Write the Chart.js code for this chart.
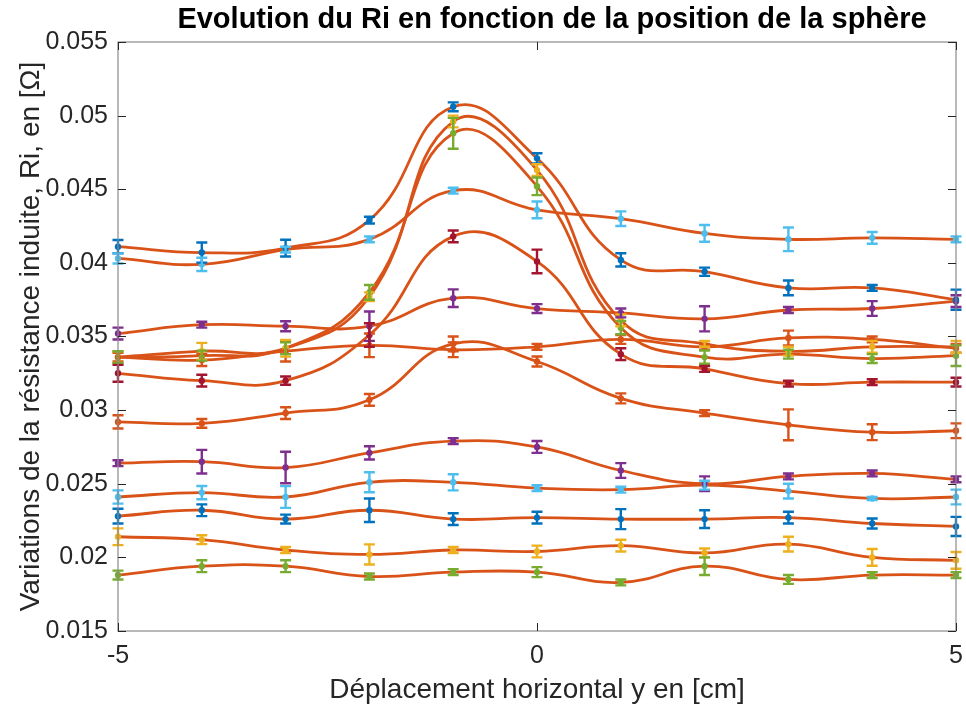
<!DOCTYPE html>
<html>
<head>
<meta charset="utf-8">
<script src="https://cdn.jsdelivr.net/npm/chart.js@4.4.1/dist/chart.umd.min.js"></script>
<style>
html, body { margin: 0; padding: 0; background: #fff; }
#wrap { width: 966px; height: 711px; }
</style>
</head>
<body>
<div id="wrap"><canvas id="ri" width="966" height="711"></canvas></div>
<script>
// positions de la sphère (cm)
const positions = [-5, -4, -3, -2, -1, 0, 1, 2, 3, 4, 5];

// Ri mesuré (Ohm) pour chaque essai, et écart-type associé
const ri1  = [0.0411, 0.0407, 0.0410, 0.0429, 0.0506, 0.0471, 0.0402, 0.0394, 0.0383, 0.0383, 0.0375];
const err1 = [0.00045, 0.00068, 0.00057, 0.00023, 0.0003, 0.00034, 0.00045, 0.00028, 0.0005, 0.0002, 0.00068];
const ri2  = [0.0336, 0.0334, 0.0340, 0.0344, 0.0341, 0.0343, 0.0348, 0.0343, 0.0349, 0.0348, 0.0342];
const err2 = [0.0003, 0.0004, 0.0007, 0.0008, 0.0005, 0.0002, 0.0003, 0.0002, 0.0005, 0.0002, 0.0003];
const ri3  = [0.0336, 0.0340, 0.0342, 0.0377, 0.0496, 0.0463, 0.0361, 0.0345, 0.0340, 0.0343, 0.0343];
const err3 = [0.0004, 0.00057, 0.00057, 0.0003, 0.0004, 0.0004, 0.0004, 0.0002, 0.0003, 0.0004, 0.0004];
const ri4  = [0.0352, 0.0358, 0.0357, 0.0357, 0.0376, 0.0369, 0.0366, 0.0362, 0.0368, 0.0369, 0.0374];
const err4 = [0.0004, 0.0002, 0.00034, 0.001, 0.0006, 0.0003, 0.0003, 0.00085, 0.0002, 0.0005, 0.0004];
const ri5  = [0.0336, 0.0337, 0.0342, 0.0380, 0.0488, 0.0452, 0.0356, 0.0336, 0.0338, 0.0335, 0.0337];
const err5 = [0.0004, 0.00034, 0.0004, 0.0005, 0.00105, 0.0006, 0.00045, 0.00045, 0.0003, 0.0003, 0.0007];
const ri6  = [0.0403, 0.0399, 0.0409, 0.0416, 0.0449, 0.0436, 0.0430, 0.0420, 0.0416, 0.0417, 0.0416];
const err6 = [0.00034, 0.00045, 0.0002, 0.0002, 0.0002, 0.00057, 0.0005, 0.00057, 0.0008, 0.0004, 0.0002];
const ri7  = [0.0325, 0.0320, 0.0320, 0.0351, 0.0418, 0.0401, 0.0338, 0.0328, 0.0318, 0.0319, 0.0319];
const err7 = [0.00057, 0.0004, 0.00028, 0.0008, 0.0004, 0.0008, 0.0004, 0.0002, 0.0002, 0.0002, 0.0003];
const ri8  = [0.0228, 0.0232, 0.0226, 0.0232, 0.0226, 0.0227, 0.0226, 0.0226, 0.0227, 0.0223, 0.0221];
const err8 = [0.0005, 0.0004, 0.0003, 0.0008, 0.0004, 0.0004, 0.00068, 0.0006, 0.0004, 0.00034, 0.00065];
const ri9  = [0.0292, 0.0291, 0.0298, 0.0307, 0.0345, 0.0333, 0.0308, 0.0298, 0.0290, 0.0285, 0.0286];
const err9 = [0.00045, 0.0003, 0.0004, 0.0004, 0.0005, 0.00034, 0.00034, 0.0002, 0.00105, 0.00054, 0.0005];
const ri10  = [0.0214, 0.0212, 0.0205, 0.0202, 0.0205, 0.0204, 0.0208, 0.0203, 0.0209, 0.0200, 0.0198];
const err10 = [0.00057, 0.0003, 0.0002, 0.00068, 0.0002, 0.0004, 0.0004, 0.0003, 0.0005, 0.00057, 0.00057];
const ri11  = [0.0264, 0.0265, 0.0261, 0.0271, 0.0279, 0.0275, 0.0259, 0.0250, 0.0255, 0.0257, 0.0253];
const err11 = [0.0002, 0.0008, 0.00107, 0.00045, 0.0002, 0.0004, 0.0005, 0.0005, 0.0002, 0.0002, 0.0002];
const ri12  = [0.0188, 0.0194, 0.0194, 0.0187, 0.0190, 0.0190, 0.0183, 0.0194, 0.0185, 0.0188, 0.0188];
const err12 = [0.0003, 0.0004, 0.0004, 0.0002, 0.0002, 0.00034, 0.0002, 0.0006, 0.0003, 0.0002, 0.0002];
const ri13  = [0.0241, 0.0244, 0.0241, 0.0251, 0.0251, 0.0247, 0.0246, 0.0249, 0.0245, 0.0240, 0.0241];
const err13 = [0.00045, 0.00045, 0.00074, 0.00068, 0.00055, 0.0002, 0.0002, 0.0003, 0.0005, 0.0001, 0.0005];

const yTicks = [0.015, 0.02, 0.025, 0.03, 0.035, 0.04, 0.045, 0.05, 0.055];
const xTicks = [-5, 0, 5];

// ordre des couleurs par défaut de MATLAB
const colorOrder = ['#0072BD', '#D95319', '#EDB120', '#7E2F8E', '#77AC30', '#4DBEEE', '#A2142F'];
const fitColor = '#D95319';
const axisColor = '#262626';
const fontFamily = '"Liberation Sans", Arial, Helvetica, sans-serif';

const runs = [
    [ri1, err1], [ri2, err2], [ri3, err3], [ri4, err4], [ri5, err5], [ri6, err6], [ri7, err7],
    [ri8, err8], [ri9, err9], [ri10, err10], [ri11, err11], [ri12, err12], [ri13, err13]
];

const datasets = [];
runs.forEach(([vals, errs], k) => {
    const pts = positions.map((x, i) => ({ x: x, y: vals[i] }));
    // courbe lissée
    datasets.push({
        type: 'line',
        data: pts,
        borderColor: fitColor,
        borderWidth: 2.8,
        pointRadius: 0,
        tension: 0.45,
        fill: false,
        order: 2,
    });
    // mesures avec barres d'erreur
    datasets.push({
        type: 'scatter',
        data: pts,
        errors: errs,
        showLine: false,
        backgroundColor: colorOrder[k % colorOrder.length],
        borderWidth: 0,
        pointRadius: 3.2,
        clip: false,
        order: 1,
    });
});

const errorBars = {
    id: 'errorBars',
    afterDatasetsDraw(chart) {
        const ctx = chart.ctx;
        const yScale = chart.scales.y;
        chart.data.datasets.forEach((ds, i) => {
            if (!ds.errors) return;
            const meta = chart.getDatasetMeta(i);
            ctx.save();
            ctx.strokeStyle = ds.backgroundColor;
            ctx.lineWidth = 2.4;
            ctx.lineCap = 'butt';
            meta.data.forEach((pt, j) => {
                const v = ds.data[j].y;
                const e = ds.errors[j];
                const top = yScale.getPixelForValue(v + e);
                const bot = yScale.getPixelForValue(v - e);
                ctx.beginPath();
                ctx.moveTo(pt.x, top);
                ctx.lineTo(pt.x, bot);
                ctx.moveTo(pt.x - 5.5, top);
                ctx.lineTo(pt.x + 5.5, top);
                ctx.moveTo(pt.x - 5.5, bot);
                ctx.lineTo(pt.x + 5.5, bot);
                ctx.stroke();
            });
            ctx.restore();
        });
    }
};

// cadre, graduations intérieures et titre
const axesBox = {
    id: 'axesBox',
    afterDraw(chart) {
        const ctx = chart.ctx;
        const { left, right, top, bottom } = chart.chartArea;
        const xs = chart.scales.x, ys = chart.scales.y;
        const tick = 8;
        ctx.save();
        ctx.strokeStyle = '#8a8a8a';
        ctx.lineWidth = 1.2;
        ctx.strokeRect(left, top, right - left, bottom - top);
        ctx.strokeStyle = axisColor;
        ctx.lineWidth = 1;
        ctx.beginPath();
        yTicks.forEach(v => {
            const y = Math.round(ys.getPixelForValue(v)) + 0.5;
            ctx.moveTo(left, y); ctx.lineTo(left + tick, y);
            ctx.moveTo(right, y); ctx.lineTo(right - tick, y);
        });
        xTicks.forEach(v => {
            const x = Math.round(xs.getPixelForValue(v)) + 0.5;
            ctx.moveTo(x, bottom); ctx.lineTo(x, bottom - tick);
            ctx.moveTo(x, top); ctx.lineTo(x, top + tick);
        });
        ctx.stroke();
        ctx.fillStyle = '#000';
        ctx.font = 'bold 29px ' + fontFamily;
        ctx.textAlign = 'center';
        ctx.textBaseline = 'middle';
        ctx.fillText('Evolution du Ri en fonction de la position de la sphère', 552, 20);
        ctx.restore();
    }
};

new Chart(document.getElementById('ri'), {
    data: { datasets: datasets },
    options: {
        responsive: false,
        animation: false,
        devicePixelRatio: 1,
        layout: { padding: { top: 42, right: 10, left: 0, bottom: 0 } },
        plugins: {
            legend: { display: false },
            tooltip: { enabled: false },
        },
        scales: {
            x: {
                type: 'linear',
                min: -5,
                max: 5,
                afterBuildTicks: s => { s.ticks = xTicks.map(v => ({ value: v })); },
                afterFit: s => { s.height = 80; s.paddingLeft = 0; s.paddingRight = 0; },
                ticks: { color: axisColor, font: { size: 25, family: fontFamily }, padding: 10, maxRotation: 0 },
                grid: { display: false, drawTicks: false },
                border: { display: false },
                title: {
                    display: true,
                    text: 'Déplacement horizontal y en [cm]',
                    color: axisColor,
                    font: { size: 28, family: fontFamily },
                    padding: { top: 0, bottom: 4 },
                },
            },
            y: {
                type: 'linear',
                min: 0.015,
                max: 0.055,
                afterBuildTicks: s => { s.ticks = yTicks.map(v => ({ value: v })); },
                afterFit: s => { s.width = 118; s.paddingTop = 0; s.paddingBottom = 0; },
                ticks: {
                    color: axisColor,
                    font: { size: 25, family: fontFamily },
                    padding: 10,
                    callback: v => String(parseFloat(v.toFixed(3))),
                },
                grid: { display: false, drawTicks: false },
                border: { display: false },
                title: {
                    display: true,
                    text: 'Variations de la résistance induite, Ri, en [Ω]',
                    color: axisColor,
                    font: { size: 28, family: fontFamily },
                    padding: { top: 14, bottom: 0 },
                },
            },
        },
    },
    plugins: [errorBars, axesBox],
});
</script>
</body>
</html>
